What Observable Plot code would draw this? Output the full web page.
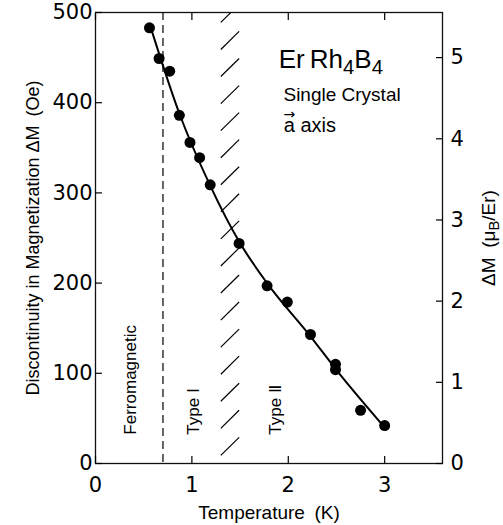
<!DOCTYPE html>
<html><head><meta charset="utf-8">
<script src="https://cdn.jsdelivr.net/npm/d3@7"></script>
<script src="https://cdn.jsdelivr.net/npm/@observablehq/plot@0.6"></script>
<style>body{margin:0;background:#fff} svg{display:block}</style>
</head><body><div id="chart"></div>
<script>
// measured points: temperature (K) and discontinuity ΔM (Oe)
const tempK  = [0.56, 0.66, 0.77, 0.87, 0.98, 1.08, 1.19, 1.49, 1.78, 1.99, 2.23, 2.49, 2.49, 2.75, 3.00];
const deltaM = [483, 449, 435, 386, 356, 339, 309, 244, 197, 179, 143, 110, 104, 59, 42];
// hand-drawn guide curve
const fitT = [0.58, 0.87, 1.19, 1.49, 1.78, 2.23, 2.49, 3.00];
const fitM = [481, 388, 308, 246, 200, 141, 105, 40];
// axes
const xTicks = [0, 1, 2, 3];
const yTicksOe = [0, 100, 200, 300, 400, 500];
const yTicksMuB = [0, 1, 2, 3, 4, 5];
const oePerMuB = 90;
// phase boundaries
const ferroBoundaryK = 0.7;
const mixedStateK = [1.30, 1.49];
const hatchM = [9, 39, 69, 99, 129, 159, 189, 219, 249, 279, 309, 339, 369, 399, 429, 459, 489];
const hatchRise = 20;
// labels
const phaseLabels = ["Ferromagnetic", "Type \u2160", "Type \u2161"];
const phaseLabelT = [0.36, 1.02, 1.87];
const phaseLabelM = 32;
const sampleLines = ["Er\u2009Rh4B4", "Single Crystal", "a\u20D7 axis"];
const sampleT = [1.90, 1.95, 1.95];
const sampleM = [438, 402, 367];
const sampleSize = [26, 19, 20];
const yLabelLeft = "Discontinuity in Magnetization \u0394M\u2002(Oe)";
const yLabelRight = "\u0394M\u2002(\u03bcB/Er)";
const xLabel = "Temperature\u2002(K)";

const points = tempK.map((t, i) => ({t, m: deltaM[i]}));
const fit = fitT.map((t, i) => ({t, m: fitM[i]}));
const TXT = "'Liberation Sans', Arial, sans-serif";
const NUM = "'DejaVu Sans', sans-serif";

const chart = Plot.plot({
  width: 503, height: 525,
  marginLeft: 95, marginRight: 61, marginTop: 12, marginBottom: 62,
  x: {domain: [0, 3.6]},
  y: {domain: [0, 500]},
  style: {fontFamily: TXT, color: "#000", background: "#fff"},
  marks: [
    Plot.frame({stroke: "#111", strokeWidth: 1.3}),
    Plot.axisY(yTicksOe, {anchor: "left", tickSize: -7, tickPadding: 10, fontSize: 21, fontFamily: NUM, label: null, strokeWidth: 1.2}),
    Plot.axisY(yTicksMuB.map(d => d * oePerMuB), {anchor: "right", tickSize: -7, tickPadding: 15, tickFormat: d => d / oePerMuB, fontSize: 21, fontFamily: NUM, label: null, strokeWidth: 1.2}),
    Plot.axisX(xTicks, {anchor: "bottom", tickSize: -7, tickPadding: 21, fontSize: 21, fontFamily: NUM, label: null, strokeWidth: 1.2}),
    Plot.axisX(xTicks, {anchor: "top", tickSize: -7, tickFormat: () => "", label: null, strokeWidth: 1.2}),
    Plot.ruleX([ferroBoundaryK], {strokeDasharray: "8,5", strokeWidth: 1.2}),
    Plot.link(hatchM, {x1: mixedStateK[0], x2: mixedStateK[1], y1: d => d, y2: d => d + hatchRise, clip: true, strokeWidth: 1.2}),
    Plot.line(fit, {x: "t", y: "m", curve: "monotone-x", strokeWidth: 2}),
    Plot.dot(points, {x: "t", y: "m", r: 5.5, fill: "#000", stroke: "none"}),
    Plot.text(phaseLabels, {x: (d, i) => phaseLabelT[i], y: phaseLabelM, rotate: -90, textAnchor: "start", fontSize: 17}),
    Plot.text(sampleLines, {x: (d, i) => sampleT[i], y: (d, i) => sampleM[i], textAnchor: "start", lineAnchor: "bottom", fontSize: (d, i) => sampleSize[i]}),
    Plot.text([yLabelLeft], {frameAnchor: "left", dx: -62, rotate: -90, textAnchor: "middle", lineAnchor: "middle", fontSize: 18}),
    Plot.text([yLabelRight], {frameAnchor: "right", dx: 46, rotate: -90, textAnchor: "middle", lineAnchor: "middle", fontSize: 19}),
    Plot.text([xLabel], {frameAnchor: "bottom", dy: 55, textAnchor: "middle", lineAnchor: "bottom", fontSize: 19})
  ]
});
document.getElementById("chart").appendChild(chart);

// subscripts / vector arrow as real text via tspans
const NS = "http://www.w3.org/2000/svg";
function tspans(el, parts) {
  el.textContent = "";
  for (const p of parts) {
    const ts = document.createElementNS(NS, "tspan");
    ts.textContent = p.s;
    for (const k of ["dx", "dy", "font-size", "font-family"]) if (p[k] != null) ts.setAttribute(k, p[k]);
    el.appendChild(ts);
  }
}
chart.querySelectorAll("text").forEach(t => {
  if (t.textContent === sampleLines[0]) tspans(t, [
    {s: "Er\u2009Rh"}, {s: "4", dy: 6, "font-size": "78%"}, {s: "B", dy: -6}, {s: "4", dy: 6, "font-size": "78%"}]);
  else if (t.textContent === yLabelRight) tspans(t, [
    {s: "\u0394M\u2002(\u03bc"}, {s: "B", dy: 4, "font-size": "78%"}, {s: "/Er)", dy: -4}]);
  else if (t.textContent === sampleLines[2]) tspans(t, [
    {s: "a"}, {s: "\u2192", dx: -11.4, dy: -13, "font-size": 14, "font-family": NUM}, {s: " axis", dx: -0.3, dy: 13}]);
});
</script>
</body></html>
